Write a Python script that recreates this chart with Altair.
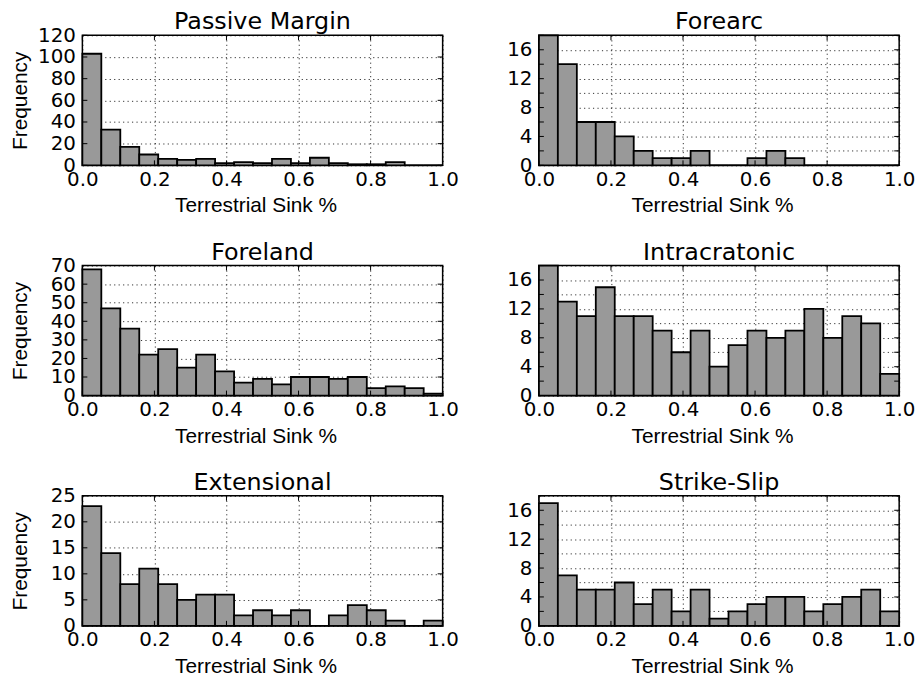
import altair as alt
import pandas as pd

# Histogram bin edges (19 equal bins over 0..1)
BIN_EDGES = [0.0, 0.0526, 0.1053, 0.1579, 0.2105, 0.2632, 0.3158, 0.3684, 0.4211,
             0.4737, 0.5263, 0.5789, 0.6316, 0.6842, 0.7368, 0.7895, 0.8421,
             0.8947, 0.9474, 1.0]

PASSIVE_MARGIN = [103, 33, 17, 10, 6, 5, 6, 2, 3, 2, 6, 2, 7, 2, 1, 1, 3, 0, 0]
FOREARC = [18, 14, 6, 6, 4, 2, 1, 1, 2, 0, 0, 1, 2, 1, 0, 0, 0, 0, 0]
FORELAND = [68, 47, 36, 22, 25, 15, 22, 13, 7, 9, 6, 10, 10, 9, 10, 4, 5, 4, 1]
INTRACRATONIC = [18, 13, 11, 15, 11, 11, 9, 6, 9, 4, 7, 9, 8, 9, 12, 8, 11, 10, 3]
EXTENSIONAL = [23, 14, 8, 11, 8, 5, 6, 6, 2, 3, 2, 3, 0, 2, 4, 3, 1, 0, 1]
STRIKE_SLIP = [17, 7, 5, 5, 6, 3, 5, 2, 5, 1, 2, 3, 4, 4, 2, 3, 4, 5, 2]

X_TICKS = [0.0, 0.2, 0.4, 0.6, 0.8, 1.0]
Y_TICKS_PASSIVE = [0, 20, 40, 60, 80, 100, 120]
Y_TICKS_FORELAND = [0, 10, 20, 30, 40, 50, 60, 70]
Y_TICKS_EXTENSIONAL = [0, 5, 10, 15, 20, 25]
Y_TICKS_SMALL = [0, 2, 4, 6, 8, 10, 12, 14, 16, 18]

W, H = 363, 131
TICK_LEN = 5


def panel(title, counts, yticks, label_expr, left):
    df = pd.DataFrame({"start": BIN_EDGES[:-1], "end": BIN_EDGES[1:], "count": counts})
    xt = pd.DataFrame({"start": X_TICKS})
    yt = pd.DataFrame({"count": yticks})
    xscale = alt.Scale(domain=[0, 1], nice=False, zero=False)
    yscale = alt.Scale(domain=[0, yticks[-1]], nice=False)
    yaxis_kwargs = dict(values=yticks, labelExpr=label_expr, labelPadding=7,
                        labelFlush=False, labelOverlap=False)
    if left:
        yaxis_kwargs.update(title="Frequency", titleX=-52)
    else:
        yaxis_kwargs.update(title=None)
    xaxis = alt.Axis(values=X_TICKS, format=".1f", title="Terrestrial Sink %",
                     labelPadding=4, titlePadding=6, labelFlush=False, labelOverlap=False,
                     titleX=W / 2 - 7)
    yaxis = alt.Axis(**yaxis_kwargs)
    X = alt.X("start:Q", scale=xscale, axis=xaxis)
    Y = alt.Y("count:Q", scale=yscale, axis=yaxis)
    bars = alt.Chart(df).mark_rect(
        color="#999999", stroke="black", strokeWidth=1.8
    ).encode(x=X, x2="end:Q", y=Y, y2=alt.datum(0))
    tick_style = dict(color="black", strokeWidth=1)
    yl = alt.Chart(yt).mark_rule(**tick_style).encode(
        y=Y, x=alt.value(0), x2=alt.value(TICK_LEN))
    yr = alt.Chart(yt).mark_rule(**tick_style).encode(
        y=Y, x=alt.value(W - TICK_LEN), x2=alt.value(W))
    xb = alt.Chart(xt).mark_rule(**tick_style).encode(
        x=X, y=alt.value(H), y2=alt.value(H - TICK_LEN))
    xtop = alt.Chart(xt).mark_rule(**tick_style).encode(
        x=X, y=alt.value(0), y2=alt.value(TICK_LEN))
    return alt.layer(bars, yl, yr, xb, xtop).properties(
        title=alt.TitleParams(title, frame="group"), width=W, height=H)


small_expr = "datum.value % 4 == 0 && datum.value < 18 ? datum.label : ''"
all_expr = "datum.label"

panels = [
    panel("Passive Margin", PASSIVE_MARGIN, Y_TICKS_PASSIVE, all_expr, True),
    panel("Forearc", FOREARC, Y_TICKS_SMALL, small_expr, False),
    panel("Foreland", FORELAND, Y_TICKS_FORELAND, all_expr, True),
    panel("Intracratonic", INTRACRATONIC, Y_TICKS_SMALL, small_expr, False),
    panel("Extensional", EXTENSIONAL, Y_TICKS_EXTENSIONAL, all_expr, True),
    panel("Strike-Slip", STRIKE_SLIP, Y_TICKS_SMALL, small_expr, False),
]

chart = alt.concat(*panels, columns=2, spacing={"row": 101, "column": 97}, bounds="flush").properties(
    padding={"left": 9, "top": 7, "right": 5, "bottom": 2},
    background="white",
).configure_view(
    stroke="black", strokeWidth=1.5
).configure_axis(
    grid=True, gridColor="black", gridDash=[1.2, 3.3], gridWidth=1, gridOpacity=0.8,
    domain=False, ticks=False, zindex=1,
    labelFont="DejaVu Sans", labelFontSize=20, labelColor="black",
    titleFont="Liberation Sans", titleFontSize=21, titleFontWeight="normal", titleColor="black",
).configure_title(
    font="DejaVu Sans", fontSize=24, fontWeight="normal", color="black", offset=-9
)

chart.save("out.html", embed_options={"renderer": "svg", "actions": False})
